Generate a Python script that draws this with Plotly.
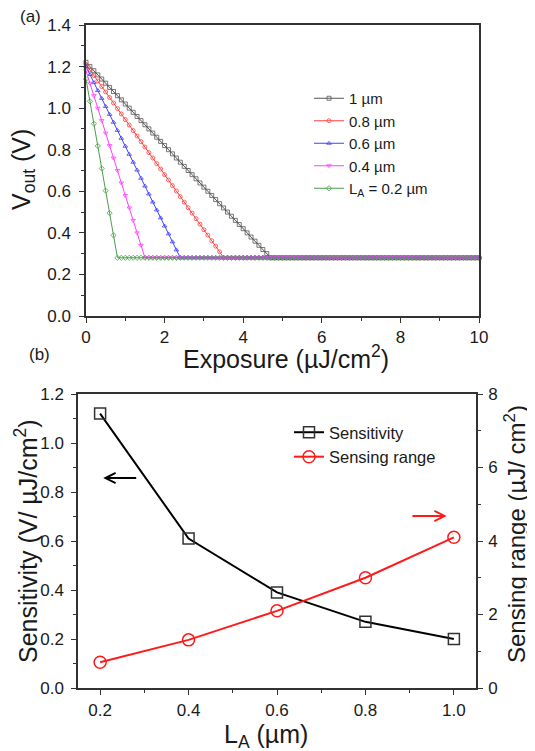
import plotly.graph_objects as go

# ---------------- Data: panel (a) ----------------
exposure = [
    0.0, 0.1, 0.2, 0.3, 0.4, 0.5, 0.6, 0.7, 0.8, 0.9,
    1.0, 1.1, 1.2, 1.3, 1.4, 1.5, 1.6, 1.7, 1.8, 1.9,
    2.0, 2.1, 2.2, 2.3, 2.4, 2.5, 2.6, 2.7, 2.8, 2.9,
    3.0, 3.1, 3.2, 3.3, 3.4, 3.5, 3.6, 3.7, 3.8, 3.9,
    4.0, 4.1, 4.2, 4.3, 4.4, 4.5, 4.6, 4.7, 4.8, 4.9,
    5.0, 5.1, 5.2, 5.3, 5.4, 5.5, 5.6, 5.7, 5.8, 5.9,
    6.0, 6.1, 6.2, 6.3, 6.4, 6.5, 6.6, 6.7, 6.8, 6.9,
    7.0, 7.1, 7.2, 7.3, 7.4, 7.5, 7.6, 7.7, 7.8, 7.9,
    8.0, 8.1, 8.2, 8.3, 8.4, 8.5, 8.6, 8.7, 8.8, 8.9,
    9.0, 9.1, 9.2, 9.3, 9.4, 9.5, 9.6, 9.7, 9.8, 9.9,
    10.0,
]

vout_1um = [
    1.22, 1.20, 1.18, 1.16, 1.14, 1.12, 1.10, 1.08, 1.06, 1.04,
    1.02, 1.00, 0.98, 0.96, 0.94, 0.92, 0.90, 0.88, 0.86, 0.84,
    0.82, 0.80, 0.78, 0.76, 0.74, 0.72, 0.70, 0.68, 0.66, 0.64,
    0.62, 0.60, 0.58, 0.56, 0.54, 0.52, 0.50, 0.48, 0.46, 0.44,
    0.42, 0.40, 0.38, 0.36, 0.34, 0.32, 0.30, 0.28, 0.28, 0.28,
    0.28, 0.28, 0.28, 0.28, 0.28, 0.28, 0.28, 0.28, 0.28, 0.28,
    0.28, 0.28, 0.28, 0.28, 0.28, 0.28, 0.28, 0.28, 0.28, 0.28,
    0.28, 0.28, 0.28, 0.28, 0.28, 0.28, 0.28, 0.28, 0.28, 0.28,
    0.28, 0.28, 0.28, 0.28, 0.28, 0.28, 0.28, 0.28, 0.28, 0.28,
    0.28, 0.28, 0.28, 0.28, 0.28, 0.28, 0.28, 0.28, 0.28, 0.28,
    0.28,
]

vout_08um = [
    1.210, 1.184, 1.157, 1.131, 1.104, 1.078, 1.051, 1.025, 0.998, 0.972,
    0.945, 0.919, 0.892, 0.866, 0.839, 0.813, 0.786, 0.760, 0.733, 0.707,
    0.680, 0.654, 0.627, 0.601, 0.574, 0.548, 0.521, 0.495, 0.468, 0.442,
    0.415, 0.389, 0.362, 0.336, 0.309, 0.280, 0.28, 0.28, 0.28, 0.28,
    0.28, 0.28, 0.28, 0.28, 0.28, 0.28, 0.28, 0.28, 0.28, 0.28,
    0.28, 0.28, 0.28, 0.28, 0.28, 0.28, 0.28, 0.28, 0.28, 0.28,
    0.28, 0.28, 0.28, 0.28, 0.28, 0.28, 0.28, 0.28, 0.28, 0.28,
    0.28, 0.28, 0.28, 0.28, 0.28, 0.28, 0.28, 0.28, 0.28, 0.28,
    0.28, 0.28, 0.28, 0.28, 0.28, 0.28, 0.28, 0.28, 0.28, 0.28,
    0.28, 0.28, 0.28, 0.28, 0.28, 0.28, 0.28, 0.28, 0.28, 0.28,
    0.28,
]

vout_06um = [
    1.200, 1.162, 1.123, 1.085, 1.047, 1.008, 0.970, 0.932, 0.893, 0.855,
    0.817, 0.778, 0.740, 0.702, 0.663, 0.625, 0.587, 0.548, 0.510, 0.472,
    0.433, 0.395, 0.357, 0.318, 0.280, 0.28, 0.28, 0.28, 0.28, 0.28,
    0.28, 0.28, 0.28, 0.28, 0.28, 0.28, 0.28, 0.28, 0.28, 0.28,
    0.28, 0.28, 0.28, 0.28, 0.28, 0.28, 0.28, 0.28, 0.28, 0.28,
    0.28, 0.28, 0.28, 0.28, 0.28, 0.28, 0.28, 0.28, 0.28, 0.28,
    0.28, 0.28, 0.28, 0.28, 0.28, 0.28, 0.28, 0.28, 0.28, 0.28,
    0.28, 0.28, 0.28, 0.28, 0.28, 0.28, 0.28, 0.28, 0.28, 0.28,
    0.28, 0.28, 0.28, 0.28, 0.28, 0.28, 0.28, 0.28, 0.28, 0.28,
    0.28, 0.28, 0.28, 0.28, 0.28, 0.28, 0.28, 0.28, 0.28, 0.28,
    0.28,
]

vout_04um = [
    1.18, 1.12, 1.06, 1.00, 0.94, 0.88, 0.82, 0.76, 0.70, 0.64,
    0.58, 0.52, 0.46, 0.40, 0.34, 0.28, 0.28, 0.28, 0.28, 0.28,
    0.28, 0.28, 0.28, 0.28, 0.28, 0.28, 0.28, 0.28, 0.28, 0.28,
    0.28, 0.28, 0.28, 0.28, 0.28, 0.28, 0.28, 0.28, 0.28, 0.28,
    0.28, 0.28, 0.28, 0.28, 0.28, 0.28, 0.28, 0.28, 0.28, 0.28,
    0.28, 0.28, 0.28, 0.28, 0.28, 0.28, 0.28, 0.28, 0.28, 0.28,
    0.28, 0.28, 0.28, 0.28, 0.28, 0.28, 0.28, 0.28, 0.28, 0.28,
    0.28, 0.28, 0.28, 0.28, 0.28, 0.28, 0.28, 0.28, 0.28, 0.28,
    0.28, 0.28, 0.28, 0.28, 0.28, 0.28, 0.28, 0.28, 0.28, 0.28,
    0.28, 0.28, 0.28, 0.28, 0.28, 0.28, 0.28, 0.28, 0.28, 0.28,
    0.28,
]

vout_02um = [
    1.140, 1.033, 0.925, 0.818, 0.710, 0.603, 0.495, 0.388, 0.280, 0.28,
    0.28, 0.28, 0.28, 0.28, 0.28, 0.28, 0.28, 0.28, 0.28, 0.28,
    0.28, 0.28, 0.28, 0.28, 0.28, 0.28, 0.28, 0.28, 0.28, 0.28,
    0.28, 0.28, 0.28, 0.28, 0.28, 0.28, 0.28, 0.28, 0.28, 0.28,
    0.28, 0.28, 0.28, 0.28, 0.28, 0.28, 0.28, 0.28, 0.28, 0.28,
    0.28, 0.28, 0.28, 0.28, 0.28, 0.28, 0.28, 0.28, 0.28, 0.28,
    0.28, 0.28, 0.28, 0.28, 0.28, 0.28, 0.28, 0.28, 0.28, 0.28,
    0.28, 0.28, 0.28, 0.28, 0.28, 0.28, 0.28, 0.28, 0.28, 0.28,
    0.28, 0.28, 0.28, 0.28, 0.28, 0.28, 0.28, 0.28, 0.28, 0.28,
    0.28, 0.28, 0.28, 0.28, 0.28, 0.28, 0.28, 0.28, 0.28, 0.28,
    0.28,
]

series_a_names = ["1 µm", "0.8 µm", "0.6 µm", "0.4 µm", "L<sub>A</sub> = 0.2 µm"]
series_a_values = [vout_1um, vout_08um, vout_06um, vout_04um, vout_02um]
series_a_colors = ["#555555", "#ff4040", "#4040ff", "#ff40ff", "#4a9e4a"]
series_a_symbols = ["square-open", "circle-open", "triangle-up-open",
                    "triangle-down-open", "diamond-open"]

# ---------------- Data: panel (b) ----------------
la_um = [0.2, 0.4, 0.6, 0.8, 1.0]
sensitivity = [1.12, 0.61, 0.39, 0.27, 0.20]
sensing_range = [0.70, 1.31, 2.10, 3.00, 4.10]

FONT = "Arial, 'Liberation Sans', Helvetica, sans-serif"
AX = "#333333"
TXT = "#1a1a1a"

fig = go.Figure()

for name, vals, col, sym in zip(series_a_names, series_a_values,
                                series_a_colors, series_a_symbols):
    fig.add_trace(go.Scatter(
        x=exposure, y=vals, name=name, mode="lines+markers",
        xaxis="x", yaxis="y", legend="legend", cliponaxis=False,
        line=dict(color=col, width=1),
        marker=dict(symbol=sym, size=4, color=col, line=dict(color=col, width=0.8)),
    ))

fig.add_trace(go.Scatter(
    x=la_um, y=sensitivity, name="Sensitivity", mode="lines+markers",
    xaxis="x2", yaxis="y2", legend="legend2", cliponaxis=False,
    line=dict(color="black", width=2),
    marker=dict(symbol="square-open", size=11, color="#333333",
                line=dict(color="#333333", width=1.5)),
))
fig.add_trace(go.Scatter(
    x=la_um, y=sensing_range, name="Sensing range", mode="lines+markers",
    xaxis="x2", yaxis="y3", legend="legend2", cliponaxis=False,
    line=dict(color="#ff1a1a", width=2),
    marker=dict(symbol="circle-open", size=12, color="#ff1a1a",
                line=dict(color="#ff1a1a", width=1.5)),
))

# page body has an 8px margin: the figure is sized to fill the rest of the window
OFF = 8
W, H = 535 - OFF, 751 - OFF


def px_x(p):
    return (p - OFF) / W


def px_y(p):
    return 1 - (p - OFF) / H


tickfont = dict(family=FONT, size=17, color=TXT)
common = dict(showline=True, linecolor=AX, linewidth=1.5, ticks="outside",
              ticklen=5, tickwidth=1.3, tickcolor=AX, showgrid=False,
              zeroline=False, tickfont=tickfont, automargin=False)

fig.update_layout(
    width=W, height=H, margin=dict(l=0, r=0, t=0, b=0, autoexpand=False),
    paper_bgcolor="white", plot_bgcolor="white", showlegend=True,
    font=dict(family=FONT, color=TXT),
    xaxis=dict(domain=[px_x(86), px_x(479)], anchor="y", range=[0, 10],
               dtick=2, tick0=0, mirror=True, ticklabelstandoff=0,
               minor=dict(dtick=1, ticklen=3, ticks="outside", tickcolor=AX),
               **common),
    yaxis=dict(domain=[px_y(316), px_y(25)], anchor="x", range=[0, 1.4],
               dtick=0.2, tick0=0, tickformat=".1f", mirror=True, ticklabelstandoff=5,
               minor=dict(dtick=0.1, ticklen=3, ticks="outside", tickcolor=AX),
               **common),
    xaxis2=dict(domain=[px_x(78), px_x(476)], anchor="y2", range=[0.15, 1.05],
                dtick=0.2, tick0=0.2, tickformat=".1f", mirror=True, ticklabelstandoff=1,
                minor=dict(dtick=0.1, tick0=0.1, ticklen=3, ticks="outside", tickcolor=AX),
                **common),
    yaxis2=dict(domain=[px_y(688), px_y(394)], anchor="x2", range=[0, 1.2],
                dtick=0.2, tick0=0, tickformat=".1f", ticklabelstandoff=4,
                minor=dict(dtick=0.1, ticklen=3, ticks="outside", tickcolor=AX),
                **common),
    yaxis3=dict(overlaying="y2", anchor="x2", side="right", range=[0, 8],
                dtick=2, tick0=0, ticklabelstandoff=2,
                minor=dict(dtick=1, ticklen=3, ticks="outside", tickcolor=AX),
                **common),
    legend=dict(x=px_x(309), y=px_y(82), xanchor="left", yanchor="top",
                bgcolor="rgba(0,0,0,0)", borderwidth=0, tracegroupgap=0,
                font=dict(family=FONT, size=15, color=TXT), itemwidth=30),
    legend2=dict(x=px_x(289), y=px_y(415), xanchor="left", yanchor="top",
                 bgcolor="rgba(0,0,0,0)", borderwidth=0, tracegroupgap=0,
                 font=dict(family=FONT, size=16.5, color=TXT), itemwidth=30),
)

title_font = dict(family=FONT, size=25, color=TXT)
ann = [
    dict(text="(a)", x=px_x(30), y=px_y(17), font=dict(family=FONT, size=17, color=TXT)),
    dict(text="(b)", x=px_x(39), y=px_y(355), font=dict(family=FONT, size=17, color=TXT)),
    dict(text="V<sub>out</sub> (V)", x=px_x(23), y=px_y(170), textangle=-90, font=title_font),
    dict(text="Exposure (µJ/cm<sup>2</sup>)", x=px_x(286), y=px_y(357), font=title_font),
    dict(text="Sensitivity (V/ µJ/cm<sup>2</sup>)", x=px_x(26), y=px_y(541), textangle=-90, font=title_font),
    dict(text="Sensing range (µJ/ cm<sup>2</sup>)", x=px_x(515), y=px_y(534), textangle=-90,
         font=dict(family=FONT, size=24, color=TXT)),
    dict(text="L<sub>A</sub> (µm)", x=px_x(266), y=px_y(736), font=title_font),
]
for a in ann:
    fig.add_annotation(xref="paper", yref="paper", xanchor="center", yanchor="middle",
                       showarrow=False, **a)

# arrows in panel (b)
fig.add_annotation(xref="x2", yref="y2", axref="x2", ayref="y2",
                   x=0.207, y=0.857, ax=0.285, ay=0.857, text="",
                   showarrow=True, arrowhead=5, arrowsize=1, arrowwidth=2,
                   arrowcolor="black", standoff=0, startstandoff=0)
fig.add_annotation(xref="x2", yref="y3", axref="x2", ayref="y3",
                   x=0.984, y=4.68, ax=0.903, ay=4.68, text="",
                   showarrow=True, arrowhead=5, arrowsize=1, arrowwidth=2,
                   arrowcolor="#ff1a1a", standoff=0, startstandoff=0)

fig.write_html("out.html")
